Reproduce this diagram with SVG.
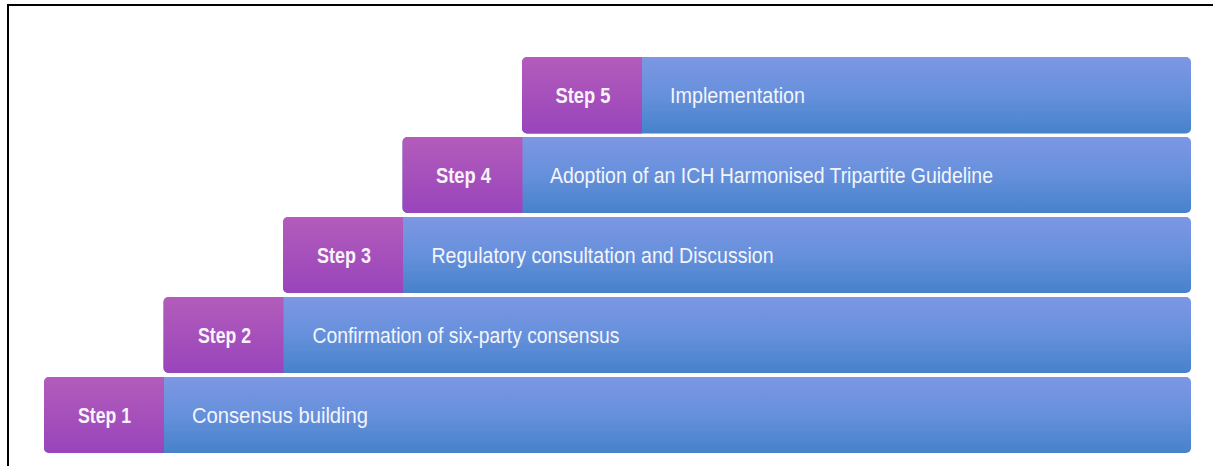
<svg xmlns="http://www.w3.org/2000/svg" width="1213" height="466" viewBox="0 0 1213 466">
  <defs>
    <linearGradient id="gBlue" x1="0" y1="0" x2="0" y2="1">
      <stop offset="0" stop-color="#7d97e3"/>
      <stop offset="0.5" stop-color="#6690dc"/>
      <stop offset="1" stop-color="#4682ca"/>
    </linearGradient>
    <linearGradient id="gPurple" x1="0" y1="0" x2="0" y2="1">
      <stop offset="0" stop-color="#b35cbb"/>
      <stop offset="1" stop-color="#9944bc"/>
    </linearGradient>
    <style>
      .bar { fill: url(#gBlue); }
      .tab { fill: url(#gPurple); }
      .step { font-family: "Liberation Sans", Arial, sans-serif; font-size: 22px; font-weight: bold; fill: #f7f3f9; text-anchor: middle; }
      .lbl { font-family: "Liberation Sans", Arial, sans-serif; font-size: 22px; fill: #f3f5fb; }
    </style>
  </defs>
  <rect x="0" y="0" width="1213" height="466" fill="#ffffff"/>
  <path d="M8,466 V5 H1213" fill="none" stroke="#000000" stroke-width="2"/>

  <g id="step1">
    <rect class="bar" x="44" y="377" width="1147" height="76" rx="5" ry="5"/>
    <path class="tab" d="M164,377 H49 A5,5 0 0 0 44,382 V448 A5,5 0 0 0 49,453 H164 Z"/>
    <text class="step" x="104.5" y="423" textLength="53" lengthAdjust="spacingAndGlyphs">Step 1</text>
    <text class="lbl" x="192" y="423" textLength="176" lengthAdjust="spacingAndGlyphs">Consensus building</text>
  </g>

  <g id="step2">
    <rect class="bar" x="163.5" y="297" width="1027.5" height="76" rx="5" ry="5"/>
    <path class="tab" d="M283.5,297 H168.5 A5,5 0 0 0 163.5,302 V368 A5,5 0 0 0 168.5,373 H283.5 Z"/>
    <text class="step" x="224.5" y="343" textLength="53" lengthAdjust="spacingAndGlyphs">Step 2</text>
    <text class="lbl" x="312.5" y="343" textLength="307" lengthAdjust="spacingAndGlyphs">Confirmation of six-party consensus</text>
  </g>

  <g id="step3">
    <rect class="bar" x="283" y="217" width="908" height="76" rx="5" ry="5"/>
    <path class="tab" d="M403,217 H288 A5,5 0 0 0 283,222 V288 A5,5 0 0 0 288,293 H403 Z"/>
    <text class="step" x="344" y="263" textLength="54" lengthAdjust="spacingAndGlyphs">Step 3</text>
    <text class="lbl" x="431.5" y="263" textLength="342" lengthAdjust="spacingAndGlyphs">Regulatory consultation and Discussion</text>
  </g>

  <g id="step4">
    <rect class="bar" x="402.5" y="137" width="788.5" height="76" rx="5" ry="5"/>
    <path class="tab" d="M522.5,137 H407.5 A5,5 0 0 0 402.5,142 V208 A5,5 0 0 0 407.5,213 H522.5 Z"/>
    <text class="step" x="463.5" y="183" textLength="55" lengthAdjust="spacingAndGlyphs">Step 4</text>
    <text class="lbl" x="550" y="183" textLength="443" lengthAdjust="spacingAndGlyphs">Adoption of an ICH Harmonised Tripartite Guideline</text>
  </g>

  <g id="step5">
    <rect class="bar" x="522" y="57" width="669" height="76.5" rx="5" ry="5"/>
    <path class="tab" d="M642,57 H527 A5,5 0 0 0 522,62 V128.5 A5,5 0 0 0 527,133.5 H642 Z"/>
    <text class="step" x="583" y="103" textLength="55" lengthAdjust="spacingAndGlyphs">Step 5</text>
    <text class="lbl" x="670" y="103" textLength="135" lengthAdjust="spacingAndGlyphs">Implementation</text>
  </g>

  <g id="connectors"></g>
</svg>
